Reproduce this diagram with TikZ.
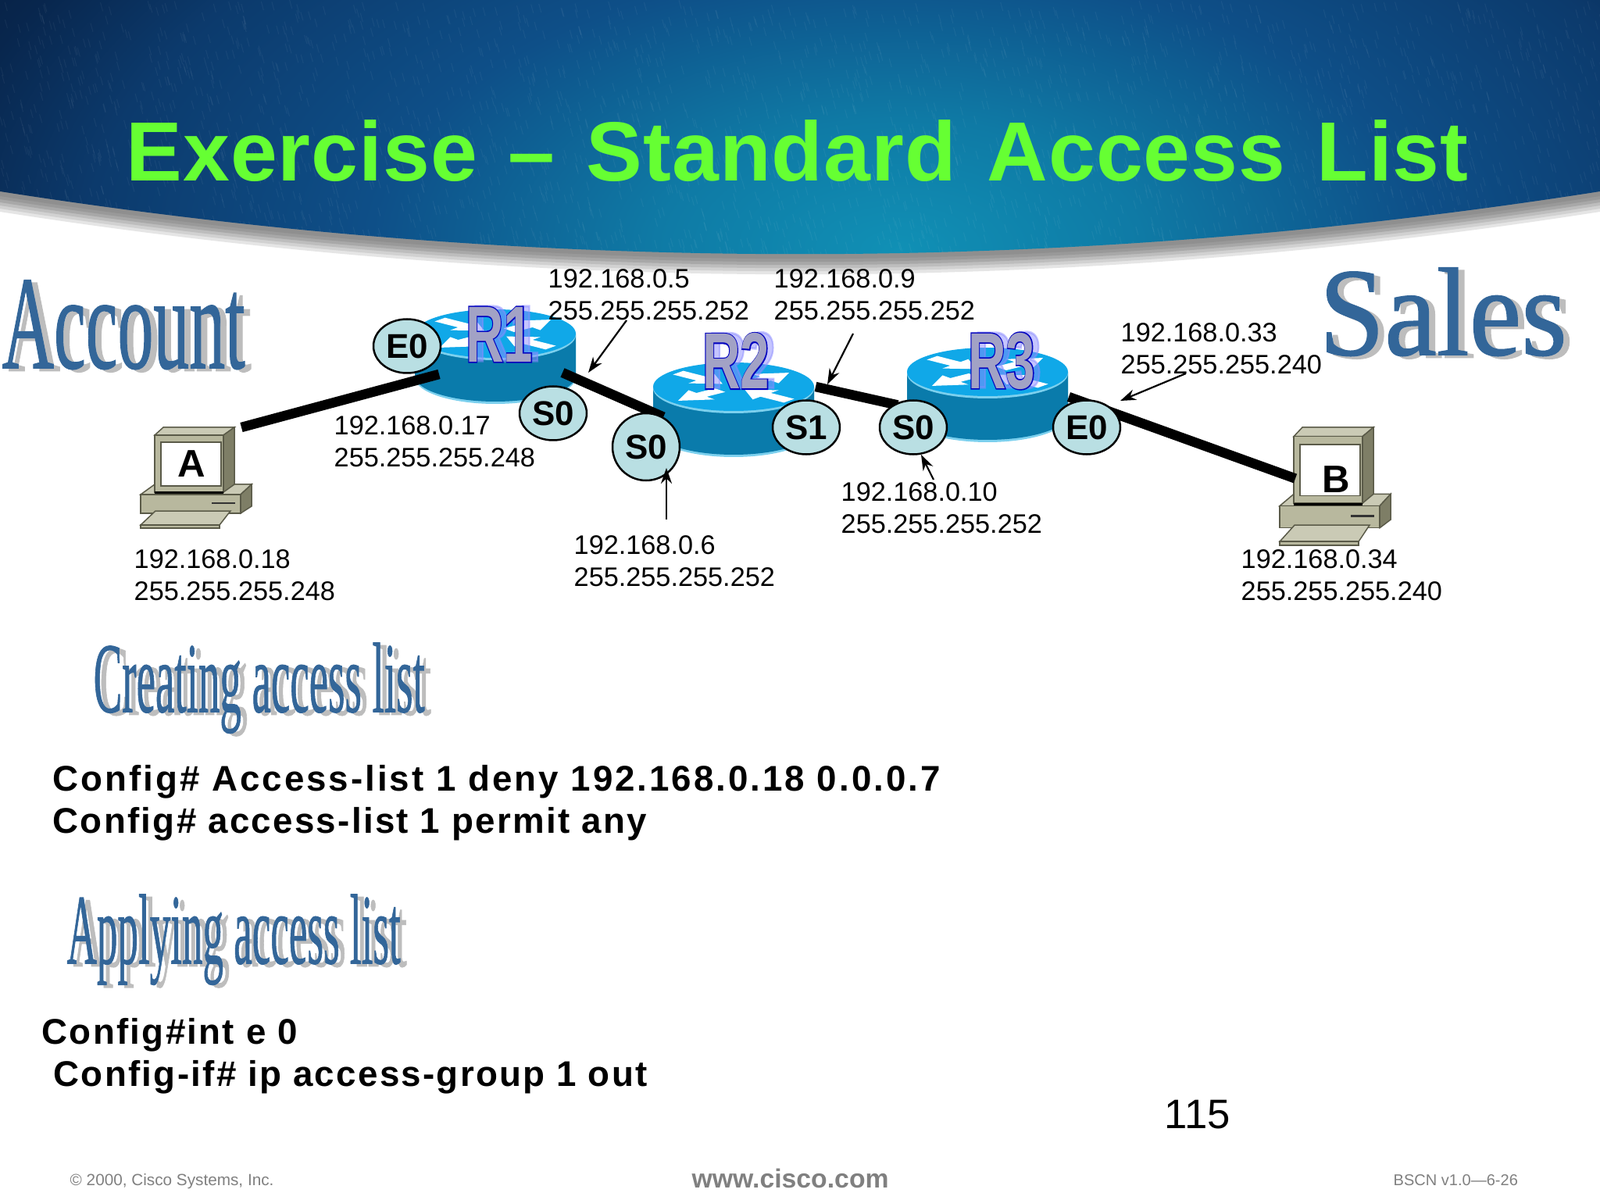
\documentclass[tikz,border=0pt]{standalone}
\usepackage{fontspec}
\usepackage{graphicx}
\usetikzlibrary{shapes.geometric,arrows.meta}
\setmainfont{Liberation Sans}
\newfontfamily\titlefont[LetterSpace=.9,WordSpace=1.3]{Liberation Sans Bold}
\newfontfamily\cmdfont[LetterSpace=5]{Liberation Sans Bold}
\newfontfamily\denyfont[LetterSpace=6.55]{Liberation Sans Bold}
\newfontfamily\artfont[FakeBold=1]{Liberation Serif}
\newfontfamily\rimfont[FakeBold=3]{Liberation Sans Bold}
\newfontfamily\facefont{Liberation Sans Bold}
\definecolor{glowa}{HTML}{1090B5}
\definecolor{glowb}{HTML}{0F7AA5}
\definecolor{glowc}{HTML}{0E4F88}
\definecolor{glowd}{HTML}{0C3A6C}
\definecolor{glowe}{HTML}{08264D}
\definecolor{glowf}{HTML}{061C3A}
\definecolor{routertop}{HTML}{10A8E8}
\definecolor{routerside}{HTML}{0A7BAB}
\definecolor{routeredge}{HTML}{7CD0EE}
\definecolor{ifacefill}{HTML}{B9DFE3}
\definecolor{pcface}{HTML}{B8B89E}
\definecolor{pclight}{HTML}{CACAB5}
\definecolor{pcdark}{HTML}{7E7E66}
\definecolor{pcline}{HTML}{5A5A48}
\definecolor{artblue}{HTML}{336699}
\definecolor{artgrey}{HTML}{BDBDBD}
\definecolor{titlegreen}{HTML}{66FF33}
\definecolor{footgrey}{HTML}{808080}
\pgfdeclareradialshading{headglow}{\pgfpoint{0bp}{0bp}}{color(0bp)=(glowa); color(6bp)=(glowb); color(13bp)=(glowc); color(20bp)=(glowd); color(24bp)=(glowe); color(28bp)=(glowf); color(100bp)=(glowf)}
\pgfdeclarelayer{under}
\pgfsetlayers{under,main}
\tikzset{
  addr/.style={anchor=west,inner sep=0pt,align=left,font=\fontsize{9.75}{11.55}\selectfont},
  iface/.style={ellipse,draw=black,line width=.25mm,fill=ifacefill,minimum width=.86cm,minimum height=.69cm,inner sep=0pt,font=\facefont\fontsize{12.5}{14}\selectfont},
  link/.style={black,line width=.125cm},
  pointer/.style={-{Stealth[length=.2cm,width=.14cm]},line width=.22mm},
  cmd/.style={anchor=base west,inner sep=0pt,font=\cmdfont\fontsize{13}{15}\selectfont},
  foot/.style={anchor=base west,inner sep=0pt,footgrey},
  artface/.style={anchor=north west,inner sep=0pt,artblue,font=\artfont},
  artshadow/.style={anchor=north west,inner sep=0pt,artgrey,font=\artfont},
  pclabel/.style={inner sep=0pt,font=\facefont\fontsize{14}{16}\selectfont},
  router/.pic={
    \fill[routeredge] (-1.03,-.03) -- (-1.03,-.56) arc (180:360:1.03 and .34) -- (1.03,-.03) -- cycle;
    \fill[routerside] (-1.03,0) -- (-1.03,-.54) arc (180:360:1.03 and .33) -- (1.03,0) -- cycle;
    \fill[routeredge] (0,-.02) ellipse (1.03 and .32);
    \fill[routertop] (0,0) ellipse (1.03 and .31);
    \begin{scope}[xscale=1.03,yscale=.31]
      \foreach \a in {40,220} {
        \fill[white,rotate=\a] (.22,.1) -- (.52,.1) -- (.52,.25) -- (.9,0) -- (.52,-.25) -- (.52,-.1) -- (.22,-.1) -- cycle;
      }
      \foreach \a in {140,320} {
        \fill[white,rotate=\a] (.9,.1) -- (.52,.1) -- (.52,.25) -- (.18,0) -- (.52,-.25) -- (.52,-.1) -- (.9,-.1) -- cycle;
      }
    \end{scope}
  },
  computer/.pic={
    \filldraw[fill=pclight,draw=pcline,line width=.15mm] (0,-.86) -- (.18,-.73) -- (1.42,-.73) -- (1.28,-.86) -- cycle;
    \filldraw[fill=pcface,draw=pcline,line width=.15mm] (0,-.86) rectangle (1.28,-1.10);
    \filldraw[fill=pcdark,draw=pcline,line width=.15mm] (1.28,-.86) -- (1.42,-.73) -- (1.42,-1.01) -- (1.28,-1.10) -- cycle;
    \fill[black!80] (.91,-.96) rectangle (1.21,-.985);
    \filldraw[fill=pclight,draw=pcline,line width=.15mm] (0,-1.25) -- (.19,-1.07) -- (1.15,-1.07) -- (1.01,-1.25) -- cycle;
    \filldraw[fill=pcface,draw=pcline,line width=.15mm] (0,-1.25) rectangle (1.01,-1.29);
    \filldraw[fill=pclight,draw=pcline,line width=.15mm] (.18,-.10) -- (.29,0) -- (1.20,0) -- (1.06,-.10) -- cycle;
    \filldraw[fill=pcface,draw=pcline,line width=.15mm] (.18,-.10) rectangle (1.06,-.83);
    \filldraw[fill=pcdark,draw=pcline,line width=.15mm] (1.06,-.10) -- (1.20,0) -- (1.20,-.73) -- (1.06,-.83) -- cycle;
    \filldraw[fill=white,draw=pcline,line width=.15mm] (.26,-.19) rectangle (1.03,-.75);
    \draw[black,line width=.3mm] (.18,-.84) -- (1.06,-.84);
    \coordinate (-port) at (1.29,0);
    \coordinate (-west) at (.20,-.56);
  }
}
\newcommand{\wordart}[6]{
  \node[artshadow,xshift=.8mm,yshift=-.35mm] (#1shadow) at (#2,#3) {\resizebox*{#4}{#5}{#6}};
  \node[artface] (#1) at (#2,#3) {\resizebox*{#4}{#5}{#6}};
}
\newcommand{\routername}[3]{
  \node[inner sep=0pt,opacity=.5,color=blue!45!white,font=\rimfont\fontsize{29}{30}\selectfont,xshift=.8mm,yshift=.1mm] (#1ghost) at (#2,#3) {\scalebox{.66}[1]{#1}};
  \node[inner sep=0pt,color=blue!75!black,font=\rimfont\fontsize{29}{30}\selectfont] (#1rim) at (#2,#3) {\scalebox{.66}[1]{#1}};
  \node[inner sep=0pt,opacity=.85,color=blue!12!black!25,font=\facefont\fontsize{29}{30}\selectfont] (#1) at (#2,#3) {\scalebox{.66}[1]{#1}};
}
\begin{document}
\begin{tikzpicture}
    \useasboundingbox (0,0) rectangle (20.48,-15.36);
    \begin{pgfonlayer}{under}
    \fill[white] (0,0) rectangle (20.48,-15.36);
    \foreach \d/\g in {.26/10,.22/18,.18/26,.14/34,.10/40,.06/44} {
        \fill[black!\g] (0,-2.45-\d) .. controls (6.83,-3.52-\d) and (13.65,-3.52-\d) .. (20.48,-2.45-\d) -- (20.48,-2.45) -- (0,-2.45) -- cycle;
    }
    \begin{scope}
        \clip (0,0) -- (20.48,0) -- (20.48,-2.45) .. controls (13.65,-3.52) and (6.83,-3.52) .. (0,-2.45) -- cycle;
        \shade[shading=headglow] (-1.5,3.8) rectangle (24.5,-10.2);
        \foreach \i in {1,...,2600} {
            \draw[white,opacity=.05,line width=.3pt] ({rnd*20.48},{-rnd*3.3}) -- ++(.03,-.11);
        }
    \end{scope}
    \pic at (6.34,-4.27) {router};
    \pic at (9.39,-4.95) {router};
    \pic at (12.64,-4.76) {router};
    \pic (pcA) at (1.80,-5.47) {computer};
    \pic[yscale=1.17] (pcB) at (16.38,-5.47) {computer};
    \end{pgfonlayer}

    \node[anchor=base west,inner sep=0pt,titlegreen,font=\titlefont\fontsize{30.6}{32}\selectfont] (title) at (1.61,-2.32) {Exercise – Standard Access List};

    \wordart{account}{.02}{-3.58}{3.11cm}{1.14cm}{Account}
    \wordart{sales}{16.88}{-3.42}{3.17cm}{1.13cm}{Sales}
    \wordart{creating}{1.19}{-8.22}{4.24cm}{1.16cm}{Creating access list}
    \wordart{applying}{.85}{-11.44}{4.27cm}{1.16cm}{Applying access list}

    \node[pclabel] (labelA) at (2.45,-5.94) {A};
    \node[pclabel] (labelB) at (17.10,-6.14) {B};

    \routername{R1}{6.39}{-4.28}
    \routername{R2}{9.42}{-4.62}
    \routername{R3}{12.82}{-4.62}

    \node[iface] (eR1) at (5.21,-4.43) {E0};
    \node[iface] (sR1) at (7.08,-5.29) {S0};
    \node[iface,minimum height=.86cm] (sR2) at (8.27,-5.72) {S0};
    \node[iface] (oR2) at (10.32,-5.47) {S1};
    \node[iface] (sR3) at (11.69,-5.47) {S0};
    \node[iface] (eR3) at (13.91,-5.47) {E0};

    \begin{pgfonlayer}{under}
    \draw[link] (pcA-port) -- ([shift={(-.77,-.51)}]R1.center);
    \draw[link] ([shift={(.81,-.49)}]R1.center) -- (sR2.60);
    \draw[link,shorten >=-.5mm] ([shift={(1.02,-.33)}]R2.center) -- (sR3.130);
    \draw[link] ([shift={(.86,-.46)}]R3.center) -- (pcB-west);
    \end{pgfonlayer}

    \node[addr] (addrA) at (1.71,-7.36) {192.168.0.18\\255.255.255.248};
    \node[addr] (addrE) at (4.27,-5.65) {192.168.0.17\\255.255.255.248};
    \node[addr] (addrS) at (7.01,-3.77) {192.168.0.5\\255.255.255.252};
    \node[addr] (addrO) at (9.90,-3.77) {192.168.0.9\\255.255.255.252};
    \node[addr] (addrF) at (14.34,-4.46) {192.168.0.33\\255.255.255.240};
    \node[addr] (addrT) at (10.76,-6.50) {192.168.0.10\\255.255.255.252};
    \node[addr] (addrX) at (7.34,-7.18) {192.168.0.6\\255.255.255.252};
    \node[addr] (addrB) at (15.88,-7.36) {192.168.0.34\\255.255.255.240};

    \coordinate (tipS) at (7.53,-4.77);
    \coordinate (tipO) at (10.59,-4.92);
    \coordinate (tipF) at (14.34,-5.13);
    \coordinate (tipT) at (11.79,-5.82);
    \coordinate (tipX) at (8.53,-5.99);
    \draw[pointer] ([shift={(1.01,-.33)}]addrS.west) -- (tipS);
    \draw[pointer] ([shift={(1.02,-.50)}]addrO.west) -- (tipO);
    \draw[pointer] ([shift={(.84,-.32)}]addrF.west) -- (tipF);
    \draw[pointer] ([shift={(1.19,.36)}]addrT.west) -- (tipT);
    \draw[pointer] ([shift={(1.19,.53)}]addrX.west) -- (tipX);

    \node[cmd,font=\denyfont\fontsize{13}{15}\selectfont] (deny) at (.67,-10.12) {Config\# Access-list 1 deny 192.168.0.18 0.0.0.7};
    \node[cmd] (permit) at (.67,-10.66) {Config\# access-list 1 permit any};
    \node[cmd] (intf) at (.53,-13.36) {Config\#int e 0};
    \node[cmd] (group) at (.68,-13.90) {Config-if\# ip access-group 1 out};

    \node[anchor=base west,inner sep=0pt,font=\fontsize{15}{17}\selectfont] (page) at (14.90,-14.44) {115};
    \node[foot,font=\fontsize{5.9}{7}\selectfont] (copyright) at (.89,-15.17) {© 2000, Cisco Systems, Inc.};
    \node[foot,font=\facefont\fontsize{9.6}{11}\selectfont] (web) at (8.85,-15.20) {www.cisco.com};
    \node[foot,font=\fontsize{5.7}{7}\selectfont] (course) at (17.83,-15.17) {BSCN v1.0—6-26};
\end{tikzpicture}
\end{document}
